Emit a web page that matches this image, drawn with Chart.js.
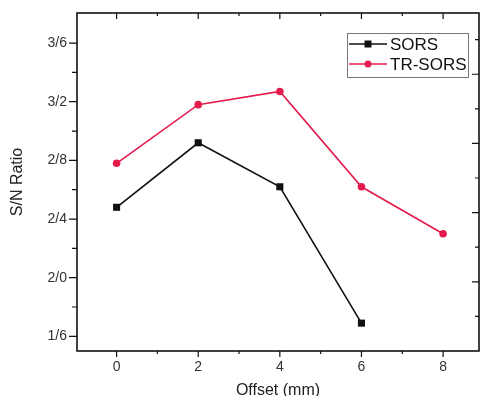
<!DOCTYPE html>
<html>
<head>
<meta charset="utf-8">
<script src="https://cdn.jsdelivr.net/npm/chart.js@4.4.0/dist/chart.umd.min.js"></script>
<style>
  html, body { margin: 0; padding: 0; background: #fff; }
  #chart { display: block; }
</style>
</head>
<body>
<canvas id="chart" width="482" height="396"></canvas>
<script>
// Offsets (mm) and S/N values
const offsets = [0, 2, 4, 6, 8];
const sorsValues = [2.48, 2.92, 2.62, 1.69];
const trSorsValues = [2.78, 3.18, 3.27, 2.62, 2.30];

// Tick labels as printed in the figure
const xTickValues = [0, 2, 4, 6, 8];
const yTickValues = [1.6, 2.0, 2.4, 2.8, 3.2, 3.6];
const yTickLabels = ['1/6', '2/0', '2/4', '2/8', '3/2', '3/6'];
// right axis only shows tick marks, its labels are cut off in the figure
const rightTickValues = [1, 2, 3, 4, 5, 6, 7, 8, 9];

const FONT = "'Liberation Sans', Arial, sans-serif";
const RED = '#e31b4d';

// Frame round the plot plus major / minor tick marks
const frameTicks = {
    id: 'frameTicks',
    afterDraw(chart) {
        const { ctx, chartArea: a, scales } = chart;
        const x = scales.x, y = scales.y, y2 = scales.y2;
        ctx.save();
        ctx.strokeStyle = '#111';
        ctx.lineWidth = 1.6;
        ctx.strokeRect(a.left, a.top, a.right - a.left, a.bottom - a.top);

        ctx.lineWidth = 1.2;
        ctx.beginPath();
        const xFirst = xTickValues[0], xLast = xTickValues[xTickValues.length - 1];
        for (let v = xFirst; v <= xLast; v++) {
            const px = x.getPixelForValue(v);
            const major = xTickValues.includes(v);
            ctx.moveTo(px, a.bottom); ctx.lineTo(px, a.bottom + (major ? 6 : 3));
            ctx.moveTo(px, a.top); ctx.lineTo(px, a.top + (major ? 6 : 3));
        }
        yTickValues.forEach((v, i) => {
            const py = y.getPixelForValue(v);
            ctx.moveTo(a.left - 8, py); ctx.lineTo(a.left, py);
            if (i < yTickValues.length - 1) {
                const pm = y.getPixelForValue((v + yTickValues[i + 1]) / 2);
                ctx.moveTo(a.left - 5, pm); ctx.lineTo(a.left, pm);
            }
        });
        rightTickValues.forEach(v => {
            const py = y2.getPixelForValue(v);
            const major = v % 2 === 0;
            ctx.moveTo(a.right - (major ? 7 : 4), py); ctx.lineTo(a.right, py);
        });
        ctx.stroke();
        ctx.restore();
    }
};

// Boxed legend in the upper right corner of the plot
const boxLegend = {
    id: 'boxLegend',
    afterDraw(chart) {
        const { ctx, chartArea: a } = chart;
        const w = 121, h = 44;
        const left = a.right - 11 - w, top = a.top + 20;
        ctx.save();
        ctx.strokeStyle = '#777';
        ctx.lineWidth = 1;
        ctx.strokeRect(left + 0.5, top + 0.5, w, h);

        chart.data.datasets.forEach((ds, i) => {
            const cy = top + 11 + i * 20;
            const x0 = left + 2, x1 = left + 40, cx = (x0 + x1) / 2;
            ctx.strokeStyle = ds.borderColor;
            ctx.lineWidth = ds.borderWidth;
            ctx.beginPath();
            ctx.moveTo(x0, cy); ctx.lineTo(x1, cy);
            ctx.stroke();
            ctx.fillStyle = ds.pointBackgroundColor;
            ctx.beginPath();
            if (ds.pointStyle === 'rect') {
                ctx.rect(cx - 3.5, cy - 3.5, 7, 7);
            } else {
                ctx.arc(cx, cy, 3.5, 0, Math.PI * 2);
            }
            ctx.fill();
            ctx.fillStyle = '#111';
            ctx.font = '17px ' + FONT;
            ctx.textBaseline = 'middle';
            ctx.textAlign = 'left';
            ctx.fillText(ds.label, x1 + 3, cy + 1);
        });
        ctx.restore();
    }
};

// keep the plot box where the figure has it, whatever the label sizes
function noEdgePadding(s) {
    s.paddingTop = 0; s.paddingBottom = 0;
    s.paddingLeft = 0; s.paddingRight = 0;
}

const ctx = document.getElementById('chart').getContext('2d');
new Chart(ctx, {
    type: 'line',
    data: {
        datasets: [{
            label: 'SORS',
            data: sorsValues.map((v, i) => ({ x: offsets[i], y: v })),
            borderColor: '#111',
            backgroundColor: '#111',
            pointBackgroundColor: '#111',
            pointBorderWidth: 0,
            borderWidth: 1.6,
            pointStyle: 'rect',
            pointRadius: 5,
            tension: 0
        }, {
            label: 'TR-SORS',
            data: trSorsValues.map((v, i) => ({ x: offsets[i], y: v })),
            borderColor: RED,
            backgroundColor: RED,
            pointBackgroundColor: RED,
            pointBorderWidth: 0,
            borderWidth: 1.6,
            pointStyle: 'circle',
            pointRadius: 3.8,
            tension: 0
        }]
    },
    options: {
        responsive: false,
        animation: false,
        devicePixelRatio: 1,
        layout: { autoPadding: false, padding: { top: 13, right: 3, left: 0, bottom: 0 } },
        plugins: {
            legend: { display: false },
            tooltip: { enabled: false }
        },
        scales: {
            x: {
                type: 'linear',
                min: -0.97,
                max: 8.88,
                grid: { display: false, drawTicks: false },
                border: { display: false },
                afterBuildTicks: s => { s.ticks = xTickValues.map(v => ({ value: v })); },
                afterFit: s => { s.height = 45; noEdgePadding(s); },
                ticks: {
                    autoSkip: false,
                    maxRotation: 0,
                    padding: 8,
                    color: '#333',
                    font: { family: FONT, size: 14 },
                    callback: v => String(v)
                },
                title: {
                    display: true,
                    text: 'Offset (mm)',
                    color: '#222',
                    padding: { top: 0, bottom: -4 },
                    font: { family: FONT, size: 16 }
                }
            },
            y: {
                min: 1.5,
                max: 3.805,
                grid: { display: false, drawTicks: false },
                border: { display: false },
                afterBuildTicks: s => { s.ticks = yTickValues.map(v => ({ value: v })); },
                afterFit: s => { s.width = 77; noEdgePadding(s); },
                ticks: {
                    padding: 10,
                    color: '#333',
                    font: { family: FONT, size: 14 },
                    callback: (v, i) => yTickLabels[i]
                },
                title: {
                    display: true,
                    text: 'S/N Ratio',
                    color: '#222',
                    padding: { top: 8, bottom: 0 },
                    font: { family: FONT, size: 16 }
                }
            },
            y2: {
                position: 'right',
                display: false,
                min: 0,
                max: 9.77
            }
        }
    },
    plugins: [frameTicks, boxLegend]
});
</script>
</body>
</html>
